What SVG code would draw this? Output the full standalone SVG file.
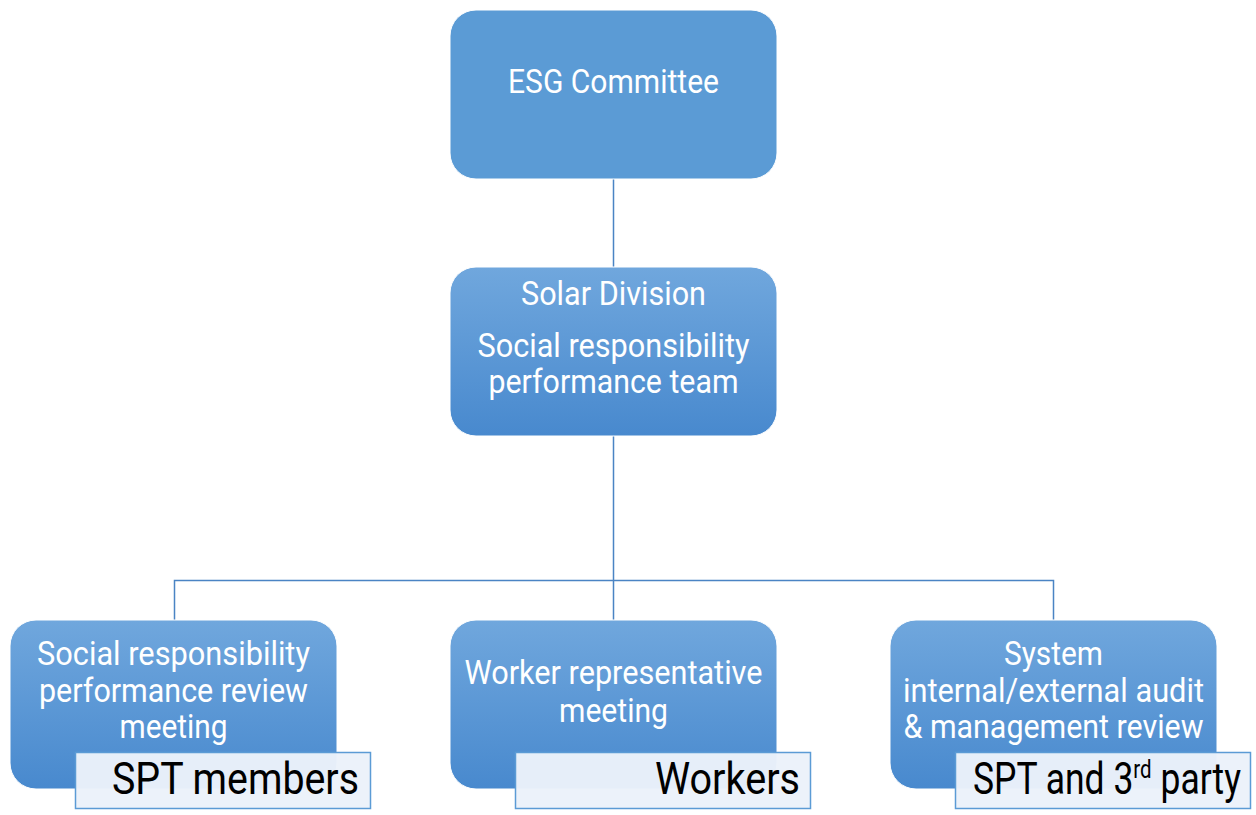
<svg xmlns="http://www.w3.org/2000/svg" width="1256" height="815" viewBox="0 0 1256 815">
<defs>
<linearGradient id="g" x1="0" y1="0" x2="0" y2="1">
<stop offset="0" stop-color="#70a7dd"/>
<stop offset="1" stop-color="#4889ce"/>
</linearGradient>
<style>
.box{stroke:#ffffff;stroke-width:1}
.t{font-family:Roboto,"Liberation Sans",sans-serif;font-size:33px;fill:#ffffff;text-anchor:middle}
.lab{fill:#ebf2fa;fill-opacity:0.97;stroke:#5b9bd5;stroke-width:1.5}
.lt{font-family:Roboto,"Liberation Sans",sans-serif;font-size:45px;fill:#000000}
.c{stroke:#4a84c4;stroke-width:1.5;fill:none}
</style>
</defs>
<rect width="1256" height="815" fill="#ffffff"/>
<g id="connectors">
<path class="c" d="M613.5 179V267M613.5 435V620M174.5 620V580.5H1053.5V620"/>
</g>
<g id="esg">
<rect class="box" x="450" y="10" width="327" height="169" rx="26" fill="#5b9bd5"/>
<text class="t" x="613.5" y="93" textLength="211" lengthAdjust="spacingAndGlyphs">ESG Committee</text>
</g>
<g id="solar">
<rect class="box" x="450" y="267" width="327" height="169" rx="26" fill="url(#g)"/>
<text class="t" x="613.5" y="305" textLength="185" lengthAdjust="spacingAndGlyphs">Solar Division</text>
<text class="t" x="613.5" y="357" textLength="272" lengthAdjust="spacingAndGlyphs">Social responsibility</text>
<text class="t" x="613.5" y="393" textLength="250" lengthAdjust="spacingAndGlyphs">performance team</text>
</g>
<g id="review">
<rect class="box" x="10" y="620" width="327" height="169" rx="26" fill="url(#g)"/>
<text class="t" x="173.5" y="665" textLength="273" lengthAdjust="spacingAndGlyphs">Social responsibility</text>
<text class="t" x="173.5" y="702" textLength="269" lengthAdjust="spacingAndGlyphs">performance review</text>
<text class="t" x="173.5" y="738" textLength="108" lengthAdjust="spacingAndGlyphs">meeting</text>
<rect class="lab" x="75.5" y="752.5" width="295" height="56"/>
<text class="lt" x="112" y="794" textLength="247" lengthAdjust="spacingAndGlyphs">SPT members</text>
</g>
<g id="worker">
<rect class="box" x="450" y="620" width="327" height="169" rx="26" fill="url(#g)"/>
<text class="t" x="613.5" y="684" textLength="298" lengthAdjust="spacingAndGlyphs">Worker representative</text>
<text class="t" x="613.5" y="722" textLength="109" lengthAdjust="spacingAndGlyphs">meeting</text>
<rect class="lab" x="515.5" y="752.5" width="295" height="56"/>
<text class="lt" x="655" y="794" textLength="145" lengthAdjust="spacingAndGlyphs">Workers</text>
</g>
<g id="audit">
<rect class="box" x="890" y="620" width="327" height="169" rx="26" fill="url(#g)"/>
<text class="t" x="1053.5" y="665" textLength="99" lengthAdjust="spacingAndGlyphs">System</text>
<text class="t" x="1053.5" y="702" textLength="301" lengthAdjust="spacingAndGlyphs">internal/external audit</text>
<text class="t" x="1053.5" y="738" textLength="300" lengthAdjust="spacingAndGlyphs">&amp; management review</text>
<rect class="lab" x="955.5" y="752.5" width="295" height="56"/>
<text class="lt" x="973" y="794" textLength="268" lengthAdjust="spacingAndGlyphs">SPT and 3<tspan font-size="26" dy="-16">rd</tspan><tspan dy="16"> party</tspan></text>
</g>
</svg>
